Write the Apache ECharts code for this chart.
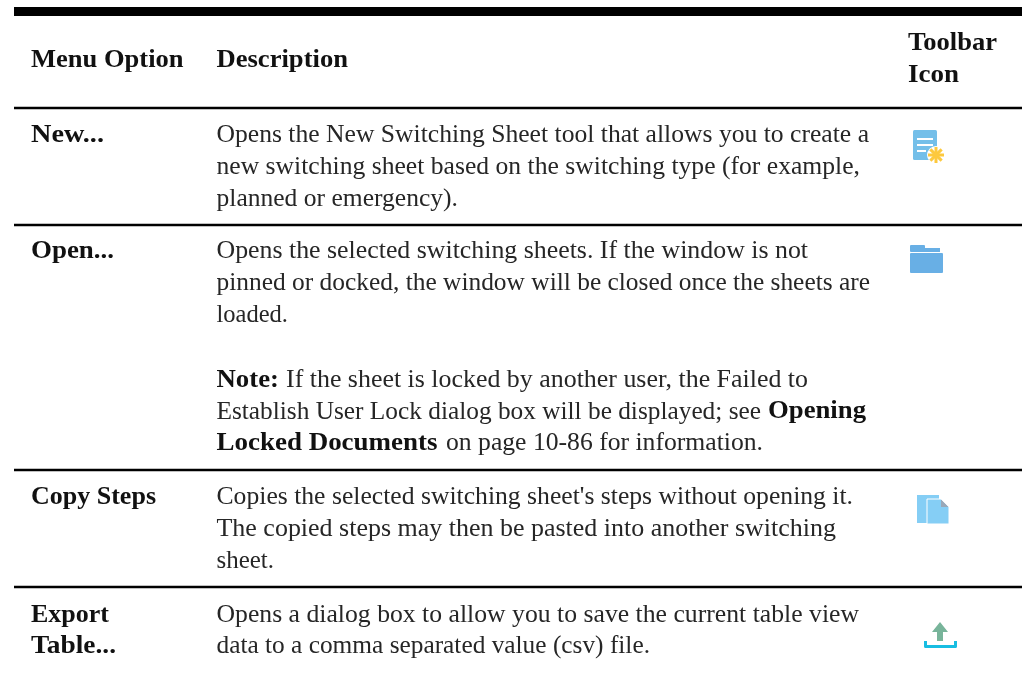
<!DOCTYPE html>
<html><head><meta charset="utf-8">
<style>html,body{margin:0;padding:0;background:#fff}#c{width:1022px;height:673px}</style>
<script src="https://cdn.jsdelivr.net/npm/echarts@6/dist/echarts.min.js"></script>
</head><body><div id="c"></div>
<script>
const headers = ["Menu Option", "Description", "Toolbar", "Icon"];
const menuOptions = ["New...", "Open...", "Copy Steps", "Export", "Table..."];
const descNew = ["Opens the New Switching Sheet tool that allows you to create a",
  "new switching sheet based on the switching type (for example,",
  "planned or emergency)."];
const descOpen = ["Opens the selected switching sheets. If the window is not",
  "pinned or docked, the window will be closed once the sheets are",
  "loaded."];
const noteParts = ["Note:", "If the sheet is locked by another user, the Failed to",
  "Establish User Lock dialog box will be displayed; see", "Opening",
  "Locked Documents", "on page 10-86 for information."];
const descCopy = ["Copies the selected switching sheet's steps without opening it.",
  "The copied steps may then be pasted into another switching",
  "sheet."];
const descExport = ["Opens a dialog box to allow you to save the current table view",
  "data to a comma separated value (csv) file."];

const SERIF = '"Liberation Serif","DejaVu Serif",serif';
const SIZE = 25.5, MID = 6.6;
const meas = document.createElement('canvas').getContext('2d');
const els = [];
function rule(cy, h) { els.push({type:'rect', shape:{x:14,y:cy-h/2,width:1008,height:h}, style:{fill:'#000'}}); }
function fit(s, left, right, base, bold) {
  const font = (bold?'bold ':'')+SIZE+'px '+SERIF;
  meas.font = font;
  const w = meas.measureText(s).width;
  els.push({type:'text', x:left, y:base-MID, scaleX:(right-left)/w, style:{text:s, x:0, y:0, fill:bold?'#111':'#262626', verticalAlign:'middle', font:font}});
}
rule(11.5,9); rule(108,2.5); rule(225,2.5); rule(470,2.5); rule(587,2.5);

fit(headers[0],31,183.5,67,true); fit(headers[1],216.5,348,67,true);
fit(headers[2],908,997,50,true); fit(headers[3],908,959,82,true);

fit(menuOptions[0],31,104,142,true);
fit(descNew[0],216.5,869,141.5); fit(descNew[1],216.5,860,173.5); fit(descNew[2],216.5,458,205.5);

fit(menuOptions[1],31,114,258,true);
fit(descOpen[0],216.5,808,258); fit(descOpen[1],216.5,870,290); fit(descOpen[2],216.5,288,322);
fit(noteParts[0],216.5,279,387,true); fit(noteParts[1],286,808,387);
fit(noteParts[2],216.5,761,418.5); fit(noteParts[3],768,866,418.5,true);
fit(noteParts[4],216.5,437.5,450,true); fit(noteParts[5],446,763,450);

fit(menuOptions[2],31,156,504,true);
fit(descCopy[0],216.5,853,504); fit(descCopy[1],216.5,836,536); fit(descCopy[2],216.5,274,568);

fit(menuOptions[3],31,109,622,true); fit(menuOptions[4],31,116,653,true);
fit(descExport[0],216.5,859,622); fit(descExport[1],216.5,650,653);

// toolbar icons
const B='#74bfe9';
els.push({type:'rect',shape:{x:913,y:130,width:24,height:30,r:1.5},style:{fill:B}});
[[917,138,16],[917,144,16],[917,150,9]].forEach(a=>els.push({type:'rect',shape:{x:a[0],y:a[1],width:a[2],height:2},style:{fill:'#fff'}}));
els.push({type:'circle',shape:{cx:936,cy:155,r:9},style:{fill:'#fff'}});
[0,45,90,135].forEach(d=>els.push({type:'rect',shape:{x:-8,y:-1.5,width:16,height:3},x:936,y:155,rotation:d*Math.PI/180,style:{fill:'#fdc93e'}}));
els.push({type:'rect',shape:{x:910,y:245,width:15,height:7,r:1},style:{fill:'#68afe5'}});
els.push({type:'rect',shape:{x:920,y:248,width:20,height:4},style:{fill:'#68afe5'}});
els.push({type:'rect',shape:{x:910,y:253,width:33,height:20,r:1},style:{fill:'#68afe5'}});
els.push({type:'rect',shape:{x:917,y:495,width:22,height:28},style:{fill:'#85cef5'}});
els.push({type:'polygon',shape:{points:[[927,499],[941,499],[949,507],[949,524],[927,524]]},style:{fill:'#85cef5',stroke:'#fff',lineWidth:1}});
els.push({type:'polygon',shape:{points:[[941,499.5],[948.5,507],[941,507]]},style:{fill:'#9aa8b8'}});
els.push({type:'polygon',shape:{points:[[940,622],[932,632],[937,632],[937,641],[943,641],[943,632],[948,632]]},style:{fill:'#78b49a'}});
els.push({type:'polyline',shape:{points:[[925.5,641],[925.5,646.5],[955.5,646.5],[955.5,641]]},style:{stroke:'#17bde2',lineWidth:3,fill:null,lineJoin:'round'}});

const chart = echarts.init(document.getElementById('c'));
chart.setOption({animation:false, graphic:{elements:els}});
</script></body></html>
